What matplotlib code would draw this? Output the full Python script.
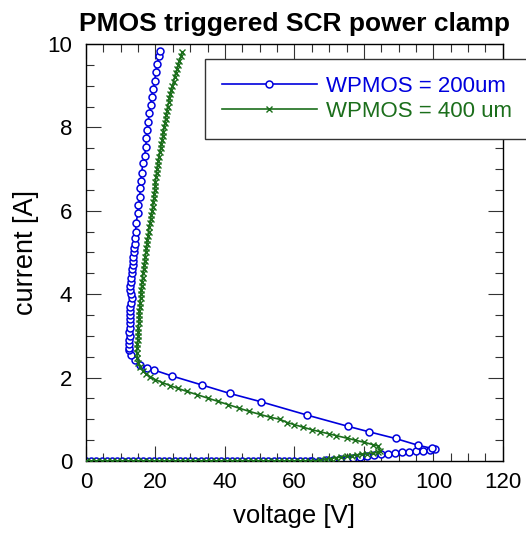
import matplotlib
matplotlib.use("Agg")
from matplotlib import pyplot as plt
from matplotlib.ticker import MultipleLocator

plt.rcParams['font.family'] = ['Liberation Sans', 'DejaVu Sans']

# off-state sweep (current stays at 0 A), shared by both devices
v_off = [0, 1.5, 3, 4.5, 6, 7.5, 9, 10.5, 12, 13.5, 15, 16.5, 18, 19.5, 21, 22.5,
         24, 25.5, 27, 28.5, 30, 31.5, 33, 34.5, 36, 37.5, 39, 40.5, 42, 43.5, 45,
         46.5, 48, 49.5, 51, 52.5, 54, 55.5, 57, 58.5, 60, 61.5, 63, 64.5]

# WPMOS = 200um : trigger, snapback and on-state
v_200 = [65, 67, 69, 71, 73, 75, 77, 79, 81, 83, 85, 87, 89, 91, 93, 95, 97, 99, 100.5,
         99.7, 95.5, 89.1, 81.5, 75.5, 63.7, 50.4, 41.4, 33.5, 24.7, 19.6, 17.5, 15.5,
         14.1, 12.9, 12.3,
         12.3, 12.4, 12.5, 12.6, 12.5, 12.6, 12.6, 12.7, 12.7, 12.8, 12.8, 13.0, 13.1,
         12.9, 12.8, 12.7, 12.9, 13.0, 13.2, 13.2, 13.4, 13.5, 13.6, 13.8, 13.9, 14.0,
         14.1, 14.3, 14.4, 14.9, 15.1, 15.5, 15.6, 15.8, 16.0, 16.4, 16.9, 17.2, 17.4,
         17.6, 17.9, 18.2, 18.6, 18.9, 19.3, 19.8, 20.1, 20.5, 20.9, 21.3]
i_200 = [0.0, 0.01, 0.02, 0.03, 0.05, 0.06, 0.08, 0.10, 0.12, 0.14, 0.16, 0.17, 0.19,
         0.21, 0.22, 0.24, 0.25, 0.27, 0.28,
         0.30, 0.38, 0.54, 0.70, 0.83, 1.10, 1.42, 1.62, 1.82, 2.04, 2.18, 2.24, 2.30,
         2.42, 2.55, 2.65,
         2.7, 2.8, 2.9, 3.0, 3.1, 3.2, 3.3, 3.4, 3.5, 3.6, 3.7, 3.8, 3.9,
         4.0, 4.1, 4.2, 4.3, 4.4, 4.5, 4.6, 4.7, 4.8, 4.9, 5.0, 5.1, 5.2,
         5.35, 5.5, 5.7, 5.94, 6.14, 6.34, 6.54, 6.72, 6.91, 7.14, 7.32, 7.54, 7.74,
         7.94, 8.14, 8.34, 8.53, 8.72, 8.92, 9.12, 9.34, 9.52, 9.70, 9.82]

# WPMOS = 400 um : trigger, snapback and on-state
v_400 = [66, 67.5, 69, 70.5, 72, 73.5, 75, 76.5, 78, 79.5, 81, 82.5, 84, 84.5,
         84.2, 82.7, 80, 77.5, 75, 72, 70, 67.5, 65, 62.5, 60, 58, 55.8, 53, 50, 47,
         44, 41, 38, 35, 32, 29, 26.5, 24.2, 22, 20, 18.5, 17.3, 16.4, 15.6, 15.1,
         14.8, 14.6,
         14.7, 14.8, 14.9, 15.0, 15.1, 15.1, 15.2, 15.3, 15.3, 15.4, 15.5, 15.6, 15.7,
         15.8, 15.9, 16.0, 16.1, 16.3, 16.4, 16.6, 16.8, 16.9, 17.1, 17.2, 17.4, 17.5,
         17.7, 17.9, 18.0, 18.2, 18.4, 18.6, 18.8, 19.0, 19.2, 19.4, 19.5, 19.6, 19.8,
         19.9, 20.0, 20.1, 20.3, 20.4, 20.6, 20.8, 21.0, 21.2, 21.5, 21.7, 21.9, 22.1,
         22.3, 22.5, 22.7, 22.9, 23.1, 23.3, 23.5, 23.8, 24.0, 24.3, 24.6, 24.9, 25.2,
         25.5, 25.8, 26.2, 26.5, 26.9, 27.3, 27.7]
i_400 = [0.0, 0.02, 0.04, 0.06, 0.08, 0.10, 0.12, 0.13, 0.15, 0.16, 0.18, 0.19, 0.21, 0.24,
         0.36, 0.39, 0.45, 0.50, 0.55, 0.61, 0.65, 0.70, 0.75, 0.81, 0.87, 0.92, 1.00,
         1.05, 1.12, 1.19, 1.27, 1.35, 1.43, 1.51, 1.59, 1.67, 1.74, 1.81, 1.88, 1.95,
         2.02, 2.09, 2.16, 2.25, 2.35, 2.47, 2.6,
         2.7, 2.8, 2.9, 3.0, 3.1, 3.2, 3.3, 3.4, 3.5, 3.6, 3.7, 3.8, 3.9,
         4.0, 4.1, 4.2, 4.3, 4.4, 4.5, 4.6, 4.7, 4.8, 4.9, 5.0, 5.1, 5.2,
         5.3, 5.4, 5.5, 5.6, 5.7, 5.8, 5.9, 6.0, 6.1, 6.2, 6.3, 6.4, 6.5,
         6.6, 6.7, 6.8, 6.9, 7.0, 7.1, 7.2, 7.3, 7.4, 7.5, 7.6, 7.7, 7.8,
         7.9, 8.0, 8.1, 8.2, 8.3, 8.4, 8.5, 8.6, 8.7, 8.8, 8.9, 9.0, 9.1,
         9.2, 9.3, 9.4, 9.5, 9.6, 9.7, 9.8]

BLUE = '#0000dd'
GREEN = '#1b6e1b'

fig = plt.figure(figsize=(5.26, 5.35), dpi=100)
ax = fig.add_axes([0.1635, 0.1383, 0.7925, 0.7795])

ax.plot(v_off + v_200, [0.0] * len(v_off) + i_200, color=BLUE, lw=1.2,
        marker='o', ms=5, mew=1.1, mfc='white', label='WPMOS = 200um', zorder=2)
ax.plot(v_off + v_400, [0.0] * len(v_off) + i_400, color=GREEN, lw=1.2,
        marker='x', ms=4.5, mew=1.0, label='WPMOS = 400 um', zorder=3)

ax.set_xlim(0, 120)
ax.set_ylim(0, 10)
ax.xaxis.set_major_locator(MultipleLocator(20))
ax.xaxis.set_minor_locator(MultipleLocator(5))
ax.yaxis.set_major_locator(MultipleLocator(2))
ax.yaxis.set_minor_locator(MultipleLocator(0.5))
ax.tick_params(which='both', direction='in', top=True, right=True,
               labelsize=16, color='#333333')
ax.tick_params(which='major', length=11, width=0.8)
ax.tick_params(which='minor', length=5.5, width=0.8)
ax.tick_params(axis='x', which='major', pad=8)
ax.tick_params(axis='y', which='major', pad=10)
for s in ax.spines.values():
    s.set_linewidth(1.0)

ax.set_xlabel('voltage [V]', fontsize=18.5, labelpad=8)
ax.set_ylabel('current [A]', fontsize=19.5, labelpad=6)
ax.set_title('PMOS triggered SCR power clamp', fontsize=19, fontweight='bold', pad=9)

leg = ax.legend(loc='upper left', bbox_to_anchor=(205 / 526, 1 - 59 / 535),
                bbox_transform=fig.transFigure, borderaxespad=0,
                fontsize=16, numpoints=1, handlelength=4.3, handletextpad=0.4,
                labelspacing=0.2, borderpad=0.75, fancybox=False, framealpha=1,
                edgecolor='#333333', labelcolor='linecolor')
leg.get_frame().set_linewidth(1.0)

fig.savefig('out.png', dpi=100)
